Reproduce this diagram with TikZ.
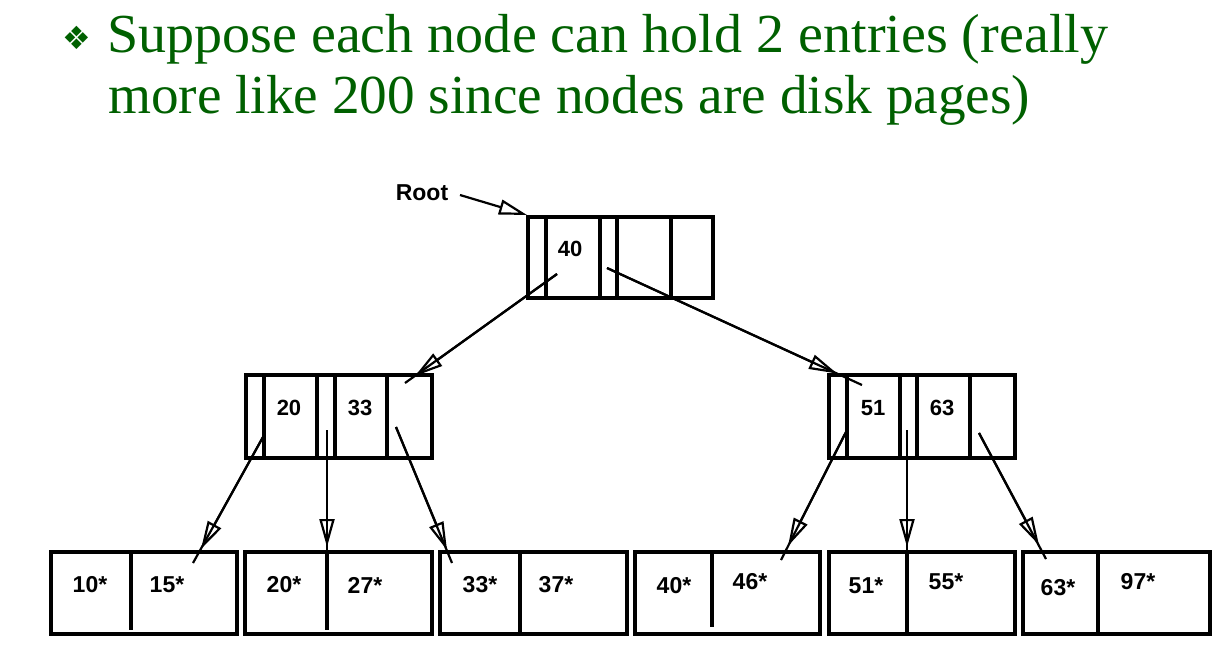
\documentclass[tikz,border=0pt]{standalone}
\usepackage{graphicx}
\usepackage{fontspec}
\setmainfont{Liberation Serif}
\newfontfamily\labfont{Liberation Sans}
\newfontfamily\symfont{DejaVu Sans}
\usetikzlibrary{arrows.meta}
\definecolor{titlegreen}{RGB}{0,96,0}
\newlength\lineonew
\newlength\linetwow
\newcommand\titlesize{\fontsize{55}{60}\selectfont}
\begin{document}
\settowidth\lineonew{\titlesize Suppose each node can hold 2 entries (really}%
\settowidth\linetwow{\titlesize more like 200 since nodes are disk pages)}%
\pgfmathsetmacro\fa{1001/\lineonew}%
\pgfmathsetmacro\fb{922/\linetwow}%
\begin{tikzpicture}[x=1pt,y=-1pt,
  box/.style={draw, line width=3.3pt, rectangle, inner sep=0pt},
  divl/.style={line width=3.3pt},
  conn/.style={line width=2.2pt},
  arr/.style={line width=2.2pt, -{Triangle[open,length=28pt,width=15pt]}},
  numlab/.style={font=\labfont\bfseries\fontsize{22}{22}\selectfont, inner sep=0pt},
  leaflab/.style={font=\labfont\bfseries\fontsize{23}{23}\selectfont, inner sep=0pt}]
\useasboundingbox (0,0) rectangle (1226,649);
% title
\node[text=titlegreen, font=\symfont\fontsize{32}{32}\selectfont, inner sep=0pt] (bul) at (77,38) {❖};
\node[anchor=base west, inner sep=0pt, text=titlegreen] (t1) at (107,52) {\scalebox{\fa}[1]{\titlesize Suppose each node can hold 2 entries (really}};
\node[anchor=base west, inner sep=0pt, text=titlegreen] (t2) at (108,113) {\scalebox{\fb}[1]{\titlesize more like 200 since nodes are disk pages)}};
% root
\node[box, minimum width=185pt, minimum height=81pt] (root) at (620.5,257.5) {};
\foreach \x in {546,600,617,671} \draw[divl] (\x,217) -- (\x,298);
\node[numlab] (r40) at (570,249) {40};
\node[font=\labfont\bfseries\fontsize{23}{23}\selectfont, inner sep=0pt] (rootlab) at (422,193) {Root};
% level 2
\node[box, minimum width=186pt, minimum height=83pt] (il) at (339,416.5) {};
\foreach \x in {264,317,335,387} \draw[divl] (\x,375) -- (\x,458);
\node[numlab] (il20) at (289,408) {20};
\node[numlab] (il33) at (360,408) {33};
\node[box, minimum width=186pt, minimum height=83pt] (ir) at (922,416.5) {};
\foreach \x in {847,900,917,970} \draw[divl] (\x,375) -- (\x,458);
\node[numlab] (ir51) at (873,408) {51};
\node[numlab] (ir63) at (942,408) {63};
% leaves
\node[box, minimum width=186pt, minimum height=82pt] (l1) at (144,593) {};
\node[box, minimum width=187pt, minimum height=82pt] (l2) at (338.5,593) {};
\node[box, minimum width=187pt, minimum height=82pt] (l3) at (533.5,593) {};
\node[box, minimum width=185pt, minimum height=82pt] (l4) at (727.5,593) {};
\node[box, minimum width=186pt, minimum height=82pt] (l5) at (922,593) {};
\node[box, minimum width=187pt, minimum height=82pt] (l6) at (1116.5,593) {};
\draw[divl] (131,552) -- (131,630);
\draw[divl] (327,550) -- (327,630);
\draw[divl] (520,552) -- (520,634);
\draw[divl] (712,552) -- (712,627);
\draw[divl] (907,552) -- (907,634);
\draw[divl] (1098,552) -- (1098,634);
\node[leaflab] (k10) at (90,585) {10*};
\node[leaflab] (k15) at (167,585) {15*};
\node[leaflab] (k20) at (284,585) {20*};
\node[leaflab] (k27) at (365,585) {27*};
\node[leaflab] (k33) at (480,585) {33*};
\node[leaflab] (k37) at (556,585) {37*};
\node[leaflab] (k40) at (674,586) {40*};
\node[leaflab] (k46) at (750,582) {46*};
\node[leaflab] (k51) at (866,586) {51*};
\node[leaflab] (k55) at (946,582) {55*};
\node[leaflab] (k63) at (1058,588) {63*};
\node[leaflab] (k97) at (1138,582) {97*};
% arrow coordinates
\coordinate (a0s) at (460,195); \coordinate (a0t) at (527,215);
\coordinate (a1s) at (557,274); \coordinate (a1t) at (415,376); \coordinate (a1e) at (405,383);
\coordinate (a2s) at (607,268); \coordinate (a2t) at (837,373.5); \coordinate (a2e) at (862,385);
\coordinate (a3s) at (263,437); \coordinate (a3t) at (201,549); \coordinate (a3e) at (193,563);
\coordinate (a4s) at (327,430); \coordinate (a4t) at (327,547); \coordinate (a4e) at (327,552);
\coordinate (a5s) at (396,427); \coordinate (a5t) at (447,550); \coordinate (a5e) at (452,563);
\coordinate (a6s) at (847,430); \coordinate (a6t) at (788,546); \coordinate (a6e) at (781,560);
\coordinate (a7s) at (907,430); \coordinate (a7t) at (907,547); \coordinate (a7e) at (907,552);
\coordinate (a8s) at (979,433); \coordinate (a8t) at (1039,545); \coordinate (a8e) at (1046,559);
% arrows
\draw[arr] (a0s) -- (a0t);
\foreach \i in {1,...,8} {
  \draw[conn] (a\i s) -- (a\i e);
  \draw[arr] (a\i s) -- (a\i t);
}
\end{tikzpicture}
\end{document}
